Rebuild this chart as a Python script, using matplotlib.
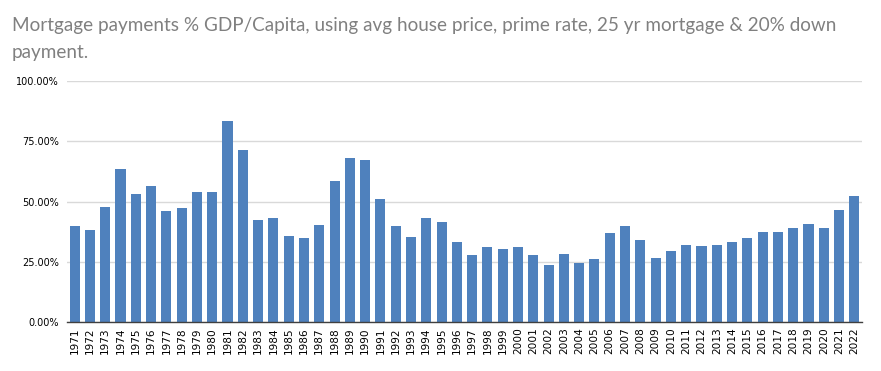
import matplotlib
matplotlib.use("Agg")
import matplotlib.pyplot as plt
from matplotlib.ticker import FuncFormatter

years = list(range(1971, 2023))
values = [39.9, 38.3, 47.8, 63.5, 53.2, 56.5, 46.1, 47.4, 54.0, 54.0,
          83.4, 71.4, 42.4, 43.2, 35.8, 34.9, 40.3, 58.6, 68.1, 67.3,
          51.1, 39.9, 35.4, 43.2, 41.6, 33.3, 27.9, 31.2, 30.4, 31.2,
          27.9, 23.8, 28.3, 24.6, 26.2, 37.0, 39.9, 34.1, 26.7, 29.6,
          32.0, 31.6, 32.0, 33.3, 34.9, 37.4, 37.4, 39.1, 40.7, 39.1,
          46.5, 52.3]
yticks = [0, 25, 50, 75, 100]
title = "Mortgage payments % GDP/Capita, using avg house price, prime rate, 25 yr mortgage & 20% down\npayment."

fig = plt.figure(figsize=(8.81, 3.71), dpi=100)
ax = fig.add_axes([67/881, 1-322/371, (862-67)/881, (322-81)/371])

x = list(range(len(years)))
ax.bar(x, values, width=0.66, color="#4F81BD", zorder=3)
ax.set_xlim(-0.5, len(years)-0.5)
ax.set_ylim(0, 100)
ax.set_yticks(yticks)
ax.yaxis.set_major_formatter(FuncFormatter(lambda v, p: f"{v:.2f}%"))
ax.set_xticks(x)
ax.set_xticklabels([str(y) for y in years], rotation=90, fontsize=7.6,
                   family="DejaVu Sans")
for lab in ax.get_yticklabels():
    lab.set_fontsize(7)
ax.tick_params(axis="y", length=0, pad=6)
ax.tick_params(axis="x", length=0, pad=4)
ax.grid(axis="y", color="#D9D9D9", linewidth=1, zorder=0)
for s in ["top", "right", "left"]:
    ax.spines[s].set_visible(False)
ax.spines["bottom"].set_color("#404040")
ax.spines["bottom"].set_linewidth(1)
ax.spines["bottom"].set_zorder(4)

fig.text(12/881, 1-17/371, title, ha="left", va="top", fontsize=13.6,
         family="Lato", color="#808080", linespacing=1.7)

fig.savefig("out.png", dpi=100)
